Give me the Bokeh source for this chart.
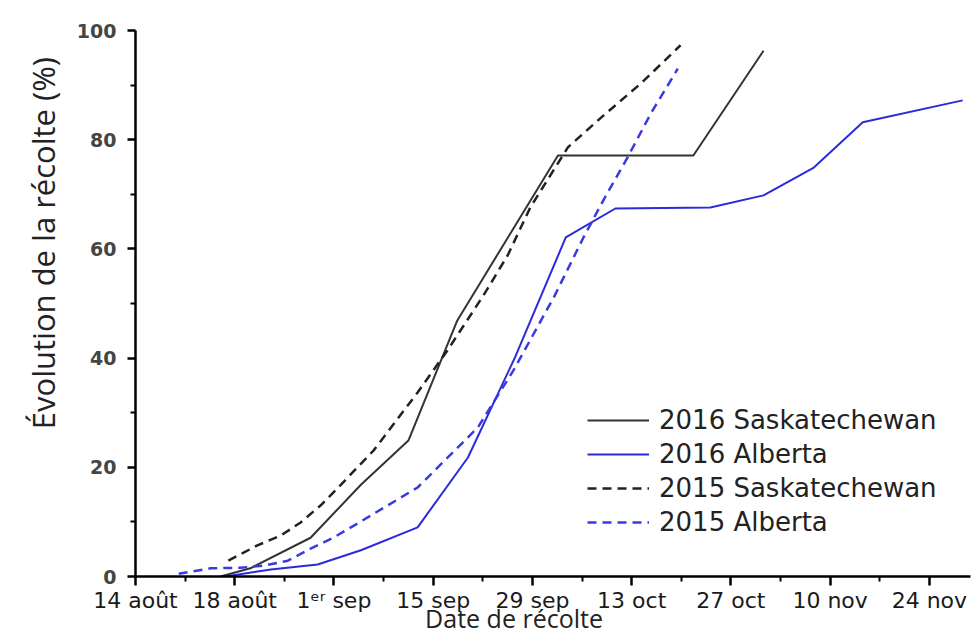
from bokeh.plotting import figure
from bokeh.models import Range1d, FixedTicker, Legend, LegendItem
from bokeh.embed import file_html
from bokeh.resources import INLINE

# ---- data (x = days after the first tick, y = % harvested) ----
tick_pos = [0, 14, 28, 42, 56, 70, 84, 98, 112]
tick_labels = ["14 août", "18 août", "1ᵉʳ sep", "15 sep", "29 sep",
               "13 oct", "27 oct", "10 nov", "24 nov"]
minor_pos = [7, 21, 35, 49, 63, 77, 91, 105]
y_ticks = [0, 20, 40, 60, 80, 100]
y_minor = [10, 30, 50, 70, 90]

days_sk16 = [12.0, 16.2, 24.7, 31.8, 38.5, 45.4, 59.6, 78.7, 88.6]
sk16 = [0.0, 1.5, 7.1, 16.8, 24.9, 46.9, 77.1, 77.1, 96.3]

days_ab16 = [12.7, 19.1, 25.7, 31.8, 39.8, 46.9, 53.6, 60.7, 67.7, 81.1,
             88.6, 95.7, 102.6, 116.7]
ab16 = [0.0, 1.3, 2.2, 4.8, 9.0, 21.8, 40.3, 62.1, 67.4, 67.6, 69.8, 74.9,
        83.2, 87.2]

days_sk15 = [13.1, 17.2, 20.5, 23.3, 26.1, 28.9, 33.6, 39.8, 44.0, 49.1,
             52.5, 55.7, 61.0, 66.0, 71.3, 76.9]
sk15 = [2.9, 5.7, 7.5, 9.9, 13.0, 16.7, 23.1, 33.7, 41.4, 51.5, 58.8, 67.6,
        78.6, 84.4, 90.3, 97.3]

days_ab15 = [6.1, 10.6, 14.8, 18.1, 21.5, 24.7, 27.9, 31.3, 39.8, 48.3,
             53.3, 59.0, 63.2, 66.0, 69.4, 72.7, 76.5]
ab15 = [0.5, 1.5, 1.6, 2.0, 2.9, 5.1, 7.1, 9.7, 16.3, 27.3, 37.7, 51.1,
        62.1, 68.9, 76.7, 84.8, 93.0]

series_names = ["2016 Saskatechewan", "2016 Alberta",
                "2015 Saskatechewan", "2015 Alberta"]
x_title = "Date de récolte"
y_title = "Évolution de la récolte (%)"

# ---- figure ----
p = figure(width=972, height=637, output_backend="svg", toolbar_location=None,
           x_range=Range1d(0, 117.8), y_range=Range1d(0, 100),
           min_border_left=135, min_border_right=2, min_border_top=30,
           min_border_bottom=61)
p.outline_line_color = None
p.xgrid.grid_line_color = None
p.ygrid.grid_line_color = None
p.background_fill_color = "white"

r1 = p.line(days_sk16, sk16, line_color="#333333", line_width=2)
r2 = p.line(days_ab16, ab16, line_color="#2b2bdc", line_width=2)
r3 = p.line(days_sk15, sk15, line_color="#222222", line_width=2.5,
            line_dash="9 6")
r4 = p.line(days_ab15, ab15, line_color="#3a3ae0", line_width=2.5,
            line_dash="9 6")

# x axis
xa = p.xaxis[0]
xa.ticker = FixedTicker(ticks=tick_pos, minor_ticks=minor_pos)
xa.major_label_overrides = dict(zip(tick_pos, tick_labels))
xa.major_label_text_font = "DejaVu Sans"
xa.major_label_text_font_size = "22px"
xa.major_label_text_color = "#1a1a1a"
xa.major_label_standoff = 2
xa.axis_line_width = 2.5
xa.axis_line_color = "black"
xa.major_tick_line_width = 2.5
xa.major_tick_out = 9
xa.major_tick_in = 0
xa.minor_tick_line_width = 2
xa.minor_tick_out = 5
xa.minor_tick_in = 0
# trailing no-break spaces shift the centred title to the left, as in the original
xa.axis_label = x_title + "\u00a0" * 12
xa.axis_label_text_font = "Open Sans"
xa.axis_label_text_font_style = "normal"
xa.axis_label_text_font_size = "25px"
xa.axis_label_text_color = "#222222"
xa.axis_label_standoff = -15

# y axis
ya = p.yaxis[0]
ya.ticker = FixedTicker(ticks=y_ticks, minor_ticks=y_minor)
ya.major_label_text_font = "DejaVu Sans"
ya.major_label_text_font_style = "bold"
ya.major_label_text_font_size = "19px"
ya.major_label_text_color = "#454545"
ya.major_label_standoff = 11
ya.axis_line_width = 2.5
ya.axis_line_color = "black"
ya.major_tick_line_width = 2.5
ya.major_tick_out = 8
ya.major_tick_in = 0
ya.minor_tick_line_width = 2
ya.minor_tick_out = 5
ya.minor_tick_in = 0
# leading no-break spaces shift the rotated title upward, as in the original
ya.axis_label = "\u00a0" * 15 + y_title
ya.axis_label_text_font = "Open Sans"
ya.axis_label_text_font_style = "normal"
ya.axis_label_text_font_size = "31px"
ya.axis_label_text_color = "#222222"
ya.axis_label_standoff = 10

legend = Legend(items=[LegendItem(label=series_names[0], renderers=[r1]),
                       LegendItem(label=series_names[1], renderers=[r2]),
                       LegendItem(label=series_names[2], renderers=[r3]),
                       LegendItem(label=series_names[3], renderers=[r4])],
                location=(452, 39), orientation="vertical")
legend.border_line_color = None
legend.background_fill_alpha = 0
legend.padding = 0
legend.margin = 0
legend.spacing = 4
legend.glyph_width = 62
legend.glyph_height = 30
legend.label_height = 30
legend.label_standoff = 10
legend.label_text_font = "DejaVu Sans"
legend.label_text_font_size = "26px"
legend.label_text_color = "#222222"
p.add_layout(legend, "center")

open("out.html", "w").write(file_html(p, INLINE))
